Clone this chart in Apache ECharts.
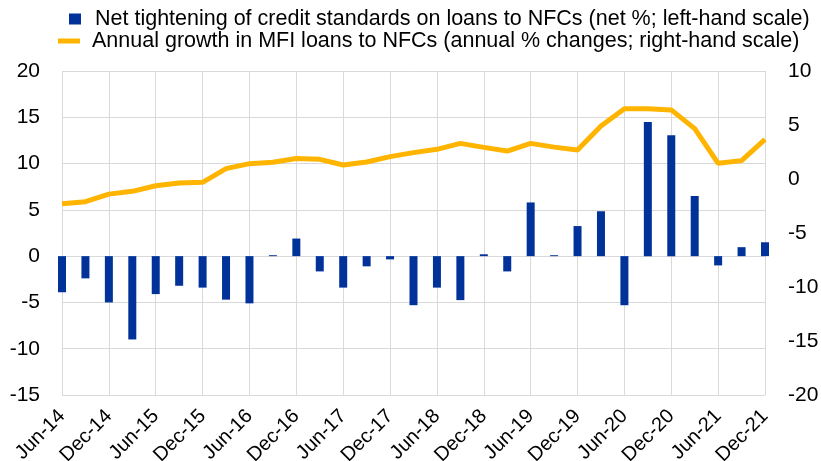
<!DOCTYPE html>
<html>
<head>
<meta charset="utf-8">
<script src="https://cdn.jsdelivr.net/npm/echarts@6/dist/echarts.min.js"></script>
<style>
  html, body { margin: 0; padding: 0; background: #fff; }
  #main { width: 821px; height: 461px; }
</style>
</head>
<body>
<div id="main"></div>
<script>
var quarters = [
  'Jun-14', 'Sep-14', 'Dec-14', 'Mar-15', 'Jun-15', 'Sep-15', 'Dec-15', 'Mar-16',
  'Jun-16', 'Sep-16', 'Dec-16', 'Mar-17', 'Jun-17', 'Sep-17', 'Dec-17', 'Mar-18',
  'Jun-18', 'Sep-18', 'Dec-18', 'Mar-19', 'Jun-19', 'Sep-19', 'Dec-19', 'Mar-20',
  'Jun-20', 'Sep-20', 'Dec-20', 'Mar-21', 'Jun-21', 'Sep-21', 'Dec-21'
];
// net tightening of credit standards, net % (left-hand scale)
var tightening = [
  -3.9, -2.4, -5.0, -9.0, -4.1, -3.2, -3.4, -4.7,
  -5.1, 0.1, 1.9, -1.65, -3.4, -1.1, -0.35, -5.3,
  -3.4, -4.75, 0.2, -1.65, 5.8, 0.1, 3.25, 4.85,
  -5.3, 14.5, 13.05, 6.5, -1.0, 0.97, 1.5
];
// annual growth in MFI loans to NFCs, % (right-hand scale)
var loanGrowth = [
  -2.29, -2.1, -1.4, -1.14, -0.62, -0.37, -0.31, 0.96,
  1.42, 1.55, 1.9, 1.82, 1.3, 1.57, 2.07, 2.44,
  2.75, 3.3, 2.93, 2.59, 3.3, 2.95, 2.69, 4.9,
  6.5, 6.5, 6.4, 4.66, 1.45, 1.7, 3.67
];
var barName = 'Net tightening of credit standards on loans to NFCs (net %; left-hand scale)';
var lineName = 'Annual growth in MFI loans to NFCs (annual % changes; right-hand scale)';

var chartDom = document.getElementById('main');
var myChart = echarts.init(chartDom);
var option;

var fontFamily = 'Liberation Sans, Arial, sans-serif';
var gridColor = '#d9d9d9';

option = {
  animation: false,
  backgroundColor: '#fff',
  legend: [
    {
      data: [barName],
      left: 64,
      top: 3,
      icon: 'rect',
      itemWidth: 12,
      itemHeight: 11,
      textStyle: {
        fontSize: 21.5,
        color: '#000',
        fontFamily: fontFamily,
        padding: [0, 0, 0, 9]
      }
    },
    {
      data: [lineName],
      left: 53,
      top: 25,
      icon: 'rect',
      itemWidth: 22,
      itemHeight: 5,
      textStyle: {
        fontSize: 21.5,
        color: '#000',
        fontFamily: fontFamily,
        padding: [0, 0, 0, 7]
      }
    }
  ],
  grid: {
    left: 62,
    right: 56,
    top: 71,
    bottom: 66,
    containLabel: false,
    outerBoundsMode: 'none'
  },
  xAxis: {
    type: 'category',
    data: quarters,
    boundaryGap: false,
    axisLine: { show: false, onZero: false },
    axisTick: { show: false },
    axisLabel: {
      interval: 1,
      rotate: 45,
      margin: 18,
      fontSize: 20,
      color: '#000',
      fontFamily: fontFamily
    },
    splitLine: {
      show: true,
      interval: 1,
      lineStyle: { color: gridColor, width: 1 }
    }
  },
  yAxis: [
    {
      type: 'value',
      min: -15,
      max: 20,
      interval: 5,
      axisLine: { show: false },
      axisTick: { show: false },
      axisLabel: {
        margin: 22,
        fontSize: 21,
        color: '#000',
        fontFamily: fontFamily
      },
      splitLine: { lineStyle: { color: gridColor, width: 1 } }
    },
    {
      type: 'value',
      min: -20,
      max: 10,
      interval: 5,
      position: 'right',
      axisLine: { show: false },
      axisTick: { show: false },
      axisLabel: {
        margin: 23,
        fontSize: 21,
        color: '#000',
        fontFamily: fontFamily
      },
      splitLine: { show: false }
    }
  ],
  series: [
    {
      name: barName,
      type: 'bar',
      yAxisIndex: 0,
      barWidth: 8,
      itemStyle: { color: '#003299' },
      data: tightening
    },
    {
      name: lineName,
      type: 'line',
      yAxisIndex: 1,
      symbol: 'none',
      itemStyle: { color: '#ffb400' },
      lineStyle: { color: '#ffb400', width: 5 },
      data: loanGrowth
    }
  ]
};

option && myChart.setOption(option);
</script>
</body>
</html>
